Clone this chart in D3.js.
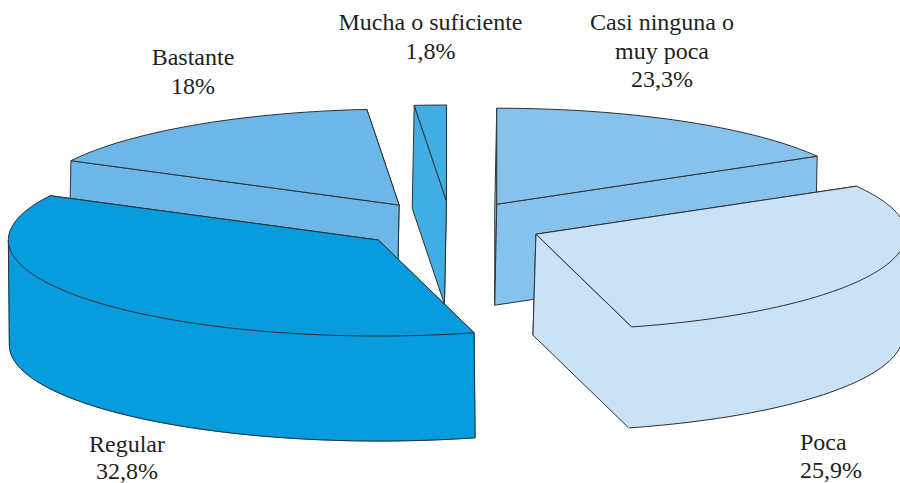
<!DOCTYPE html>
<html>
<head>
<meta charset="utf-8">
<script src="https://cdn.jsdelivr.net/npm/d3@7"></script>
<style>
  html, body { margin: 0; padding: 0; background: #fff; }
  svg { display: block; }
  text { font-family: "Liberation Serif", serif; font-size: 24px; fill: #231f20; }
</style>
</head>
<body>
<div id="chart"></div>
<script>
// data, in pie order (clockwise from the top)
const categories = ["Casi ninguna o muy poca", "Poca", "Regular", "Bastante", "Mucha o suficiente"];
const values = [23.3, 25.9, 32.8, 18, 1.8];
const valueLabels = ["23,3%", "25,9%", "32,8%", "18%", "1,8%"];
const colors = ["#86c2eb", "#cae2f6", "#069cdd", "#6cb7e7", "#41ade5"];

const width = 900, height = 483;
const cx = 450.5, cy = 225;   // pie centre before the slices are pulled out
const rx = 370, ry = 96;      // ellipse of the tilted disc
const explode = 0.25;         // how far each slice is pulled, fraction of radius

// extrusion of each slice, the original is hand drawn so they differ a bit
const depthX = [-2, -3, 1, -2, -2];
const depthY = [101, 101, 105, 103, 103];

// the drawing's projection is not true to the percentages, so the slice
// edges get warped from pie angle to the angle seen on the ellipse
const seenEdges = [0, 60, 165, 297.5, 355, 360];

const rad = (d) => d * Math.PI / 180;

const pie = d3.pie().sort(null).value((d) => d);
const arcs = pie(values);
const seenAngle = d3.scaleLinear()
    .domain([0, ...arcs.map((d) => d.endAngle)])
    .range(seenEdges.map(rad));

const svg = d3.select("#chart").append("svg")
    .attr("width", width)
    .attr("height", height);

const line = d3.line();
const closed = (pts) => line(pts) + "Z";

// point on the rim of a slice with apex c
const rim = (c, a) => [c[0] + rx * Math.sin(a), c[1] - ry * Math.cos(a)];

const rimPoints = (c, a0, a1) => {
  const n = Math.max(2, Math.ceil((a1 - a0) * 40));
  return d3.range(n + 1).map((i) => rim(c, a0 + (a1 - a0) * i / n));
};

const slices = arcs.map((d, i) => {
  const a0 = seenAngle(d.startAngle);
  const a1 = seenAngle(d.endAngle);
  const mid = (a0 + a1) / 2;
  const apex = [cx + rx * explode * Math.sin(mid), cy - ry * explode * Math.cos(mid)];
  return { i, a0, a1, apex };
});

// back slices first
slices.sort((p, q) => d3.ascending(p.apex[1], q.apex[1]));

const g = svg.selectAll("g.slice")
    .data(slices)
    .join("g")
    .attr("class", "slice")
    .attr("fill", (d) => colors[d.i])
    .attr("stroke", "#2f3133")
    .attr("stroke-width", 1)
    .attr("stroke-linejoin", "round");

g.each(function (d) {
  const sel = d3.select(this);
  const down = (p) => [p[0] + depthX[d.i], p[1] + depthY[d.i]];
  const onWall = (a) => a > Math.PI / 2 && a < Math.PI * 1.5;

  // the two cut faces, the one reaching lower on screen goes last
  const faces = [d.a0, d.a1]
      .map((a) => ({ a, p: rim(d.apex, a) }))
      .sort((u, v) => d3.ascending(u.p[1], v.p[1]));
  faces.forEach(({ a, p }) => {
    sel.append("path")
        .attr("stroke", "none")
        .attr("d", closed([d.apex, p, down(p), down(d.apex)]));
    // a face that meets the wall has no line along that corner
    const outline = onWall(a)
        ? [p, d.apex, down(d.apex), down(p)]
        : [d.apex, p, down(p), down(d.apex), d.apex];
    sel.append("path")
        .attr("fill", "none")
        .attr("d", line(outline));
  });

  // outer wall, only the part of the rim facing the viewer
  const w0 = Math.max(d.a0, Math.PI / 2);
  const w1 = Math.min(d.a1, Math.PI * 1.5);
  if (w1 > w0) {
    const top = rimPoints(d.apex, w0, w1);
    const bottom = top.map(down);
    // stroked in its own colour so no seam shows against the cut face
    sel.append("path")
        .attr("stroke", colors[d.i])
        .attr("d", closed(top.concat(bottom.slice().reverse())));
    // no line where the wall runs into a visible cut face
    const outline = w1 === d.a1
        ? [top[0], ...bottom]
        : [top[0], ...bottom, top[top.length - 1]];
    sel.append("path")
        .attr("fill", "none")
        .attr("d", line(outline));
  }

  // top surface
  sel.append("path")
      .attr("d", closed([d.apex, ...rimPoints(d.apex, d.a0, d.a1)]));
});

// labels
const labelLines = [
  { lines: ["Casi ninguna o", "muy poca", valueLabels[0]], x: 662, y: [30, 59, 87], anchor: "middle" },
  { lines: [categories[1], valueLabels[1]], x: 800, y: [450, 478], anchor: "start" },
  { lines: [categories[2], valueLabels[2]], x: 127, y: [452, 478.5], anchor: "middle" },
  { lines: [categories[3], valueLabels[3]], x: 193, y: [65, 94], anchor: "middle" },
  { lines: [categories[4], valueLabels[4]], x: 430.5, y: [30, 59], anchor: "middle" },
];

labelLines.forEach((l) => {
  svg.append("g")
      .selectAll("text")
      .data(l.lines)
      .join("text")
      .attr("x", l.x)
      .attr("y", (d, i) => l.y[i])
      .attr("text-anchor", l.anchor)
      .text((d) => d);
});
</script>
</body>
</html>
